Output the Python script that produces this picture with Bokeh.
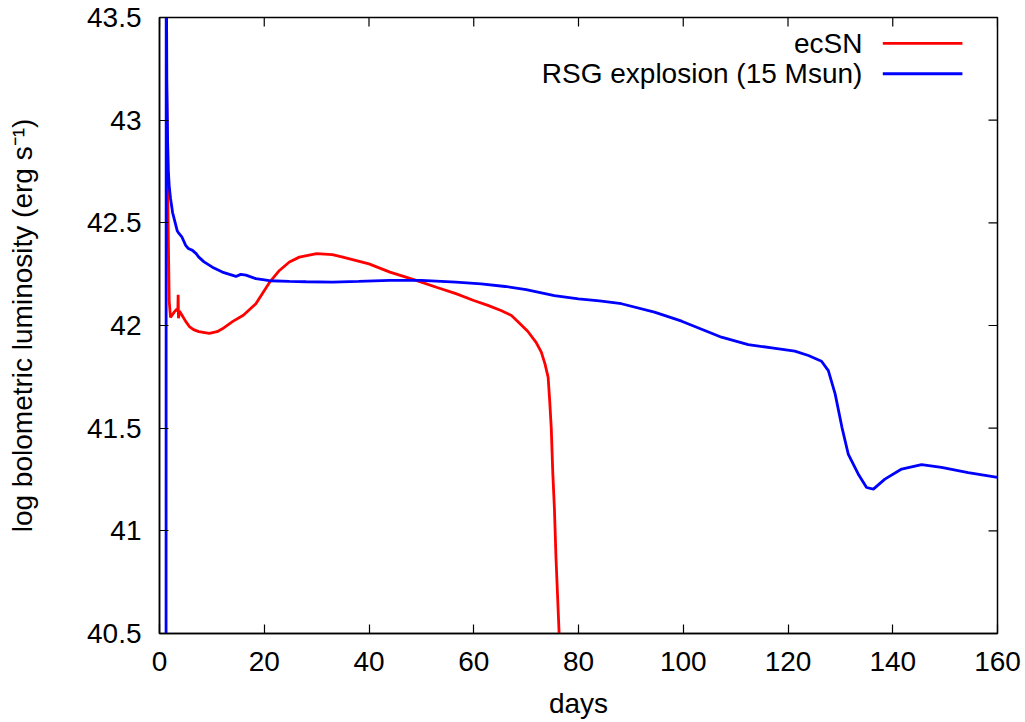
from bokeh.plotting import figure
from bokeh.models import Label, Range1d, FixedTicker
from bokeh.embed import file_html
from bokeh.resources import INLINE

# ---- data ----
ecsn_days = [1.35, 1.45, 1.55, 1.7, 1.85, 2.1, 2.4, 2.8, 3.3, 3.5, 3.56, 3.62, 3.8, 4.3,
             5.0, 5.7, 6.5, 7.5, 9.5, 11.0, 12.0, 14.0, 16.0, 18.4, 21.0, 22.9, 24.8,
             26.7, 30.0, 33.0, 35.0, 40.0, 44.0, 49.0, 53.0, 56.6, 60.0, 62.7, 65.2,
             67.2, 68.4, 70.3, 71.9, 72.9, 73.6, 74.2, 74.5, 74.8, 75.1, 75.4, 75.7,
             76.3, 76.6]
ecsn_logL = [43.17, 42.95, 42.7, 42.4, 42.12, 42.04, 42.05, 42.065, 42.08, 42.07, 42.15, 42.035,
             42.07, 42.05, 42.02, 41.995, 41.98, 41.97, 41.962, 41.97, 41.984, 42.02, 42.05,
             42.106, 42.21, 42.268, 42.309, 42.333, 42.35, 42.345, 42.333, 42.3, 42.26, 42.22,
             42.185, 42.155, 42.122, 42.098, 42.073, 42.049, 42.02, 41.972, 41.918, 41.87,
             41.813, 41.748, 41.634, 41.5, 41.277, 41.11, 40.87, 40.5, 40.3]

rsg_days = [1.25, 1.28, 1.32, 1.4, 1.55, 1.7, 1.85, 2.1, 2.5, 3.0, 3.4, 3.75, 4.3, 5.0,
            5.5, 6.3, 7.0, 7.5, 8.5, 10.1, 12.0, 14.6, 15.5, 16.5, 18.4, 21.0, 24.8, 28.0,
            33.0, 38.0, 43.9, 50.0, 56.6, 61.4, 66.0, 70.0, 75.4, 80.0, 84.0, 88.2, 94.5,
            99.7, 104.1, 107.3, 112.4, 116.9, 121.3, 123.9, 126.4, 127.7, 129.0, 130.3,
            131.5, 133.4, 135.0, 136.3, 138.5, 141.7, 145.5, 149.3, 154.4, 160.0]
rsg_logL = [40.0, 43.8, 43.7, 43.2, 42.9, 42.75, 42.68, 42.62, 42.55, 42.5, 42.46, 42.447,
            42.43, 42.39, 42.375, 42.366, 42.35, 42.333, 42.31, 42.284, 42.26, 42.239,
            42.249, 42.245, 42.228, 42.218, 42.215, 42.213, 42.211, 42.215, 42.22, 42.22,
            42.211, 42.203, 42.19, 42.175, 42.146, 42.13, 42.12, 42.106, 42.065, 42.021,
            41.976, 41.943, 41.907, 41.891, 41.875, 41.854, 41.826, 41.78, 41.667, 41.504,
            41.374, 41.277, 41.211, 41.203, 41.252, 41.301, 41.322, 41.309, 41.284, 41.26]

x_ticks = [0, 20, 40, 60, 80, 100, 120, 140, 160]
y_ticks = [40.5, 41, 41.5, 42, 42.5, 43, 43.5]
series_names = ["ecSN", "RSG explosion (15 Msun)"]
series_colors = ["#ff0000", "#0000ff"]

FONT = "Liberation Sans"
FS = "28px"
W, H = 1025, 722
BL, BR, BT, BB = 159, 28, 17, 89
X0, X1, Y0, Y1 = 0, 160, 40.5, 43.5
TICK_PX = 9

p = figure(width=W, height=H, output_backend="svg", toolbar_location=None,
           x_range=Range1d(X0, X1), y_range=Range1d(Y0, Y1),
           min_border_left=BL, min_border_right=BR, min_border_top=BT,
           min_border_bottom=BB, x_axis_label="days",
           y_axis_label="log bolometric luminosity (erg s\u207b\u00b9)")
p.background_fill_color = "white"
p.border_fill_color = "white"
p.xgrid.visible = False
p.ygrid.visible = False
p.outline_line_color = "black"
p.outline_line_width = 1.5

for ax, ticks in ((p.xaxis[0], x_ticks), (p.yaxis[0], y_ticks)):
    ax.ticker = FixedTicker(ticks=ticks)
    ax.major_tick_in = TICK_PX
    ax.major_tick_out = 0
    ax.minor_tick_line_color = None
    ax.axis_line_color = "black"
    ax.axis_line_width = 1.5
    ax.major_tick_line_color = "black"
    ax.major_tick_line_width = 1.2
    ax.major_label_text_font = FONT
    ax.major_label_text_font_size = FS
    ax.major_label_text_color = "black"
    ax.axis_label_text_font = FONT
    ax.axis_label_text_font_style = "normal"
    ax.axis_label_text_font_size = FS
    ax.axis_label_text_color = "black"

p.xaxis[0].major_label_standoff = 18
p.xaxis[0].axis_label_standoff = 14
p.yaxis[0].major_label_standoff = 18
p.yaxis[0].axis_label_standoff = 46
p.yaxis[0].major_label_overrides = {40.5: "40.5", 41: "41", 41.5: "41.5", 42: "42",
                                    42.5: "42.5", 43: "43", 43.5: "43.5"}

# mirrored inward ticks on top and right edges
frame_w = W - BL - BR
frame_h = H - BT - BB
dy_tick = TICK_PX * (Y1 - Y0) / frame_h
dx_tick = TICK_PX * (X1 - X0) / frame_w
p.segment(x0=x_ticks, x1=x_ticks, y0=[Y1] * len(x_ticks), y1=[Y1 - dy_tick] * len(x_ticks),
          line_color="black", line_width=1.2)
p.segment(x0=[X1] * len(y_ticks), x1=[X1 - dx_tick] * len(y_ticks), y0=y_ticks, y1=y_ticks,
          line_color="black", line_width=1.2)

p.line(ecsn_days, ecsn_logL, line_color=series_colors[0], line_width=2.8)
p.line(rsg_days, rsg_logL, line_color=series_colors[1], line_width=2.8)

# legend (gnuplot style: right-aligned text, sample line on the right)
leg_text_x = 134.2
leg_line_x0 = 138.1
leg_line_x1 = 153.3
leg_rows_y = [43.374, 43.226]
for name, col, yy in zip(series_names, series_colors, leg_rows_y):
    p.add_layout(Label(x=leg_text_x, y=yy, text=name, text_align="right",
                       text_baseline="middle", text_font=FONT, text_font_size=FS,
                       text_color="black"))
    p.segment(x0=[leg_line_x0], x1=[leg_line_x1], y0=[yy], y1=[yy],
              line_color=col, line_width=2.8)

open("out.html", "w").write(file_html(p, INLINE))
